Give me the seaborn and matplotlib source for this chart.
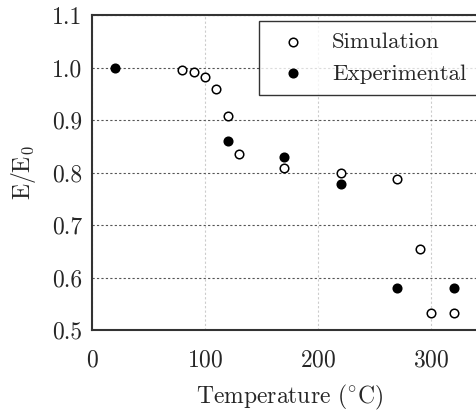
import matplotlib
matplotlib.use("Agg")
import matplotlib.pyplot as plt
import seaborn as sns
import pandas as pd

sim_T = [80, 90, 100, 110, 120, 130, 170, 220, 270, 290, 300, 320]
sim_E = [0.996, 0.991, 0.981, 0.959, 0.908, 0.836, 0.808, 0.800, 0.787, 0.654, 0.533, 0.533]
exp_T = [20, 120, 170, 220, 270, 320]
exp_E = [1.0, 0.86, 0.83, 0.779, 0.58, 0.58]
x_ticks = [0, 100, 200, 300]
y_ticks = [0.5, 0.6, 0.7, 0.8, 0.9, 1.0, 1.1]

sns.set_style("white")
plt.rcParams["font.family"] = ["cmr10", "DejaVu Serif"]
plt.rcParams["mathtext.fontset"] = "cm"
plt.rcParams["axes.formatter.use_mathtext"] = True

sim = pd.DataFrame({"T": sim_T, "E": sim_E})
exp = pd.DataFrame({"T": exp_T, "E": exp_E})

fig = plt.figure(figsize=(4.77, 4.12), dpi=100)
ax = fig.add_axes([92/477, 82/412, 395.5/477, 315/412])

sns.scatterplot(data=sim, x="T", y="E", ax=ax, marker="o", s=38,
                facecolor="white", edgecolor="black", linewidth=1.1,
                label="Simulation", zorder=3)
sns.scatterplot(data=exp, x="T", y="E", ax=ax, marker="o", s=38,
                facecolor="black", edgecolor="black", linewidth=1.1,
                label="Experimental", zorder=3)

FS = 17
ax.set_xlim(0, 350)
ax.set_ylim(0.5, 1.1)
ax.set_xticks(x_ticks)
ax.set_yticks(y_ticks)
ax.set_yticklabels([f"{v:.1f}" for v in y_ticks])
ax.tick_params(length=0, labelsize=FS)
ax.tick_params(axis="x", pad=14)
ax.tick_params(axis="y", pad=7)
ax.xaxis.grid(True, linestyle=(0, (2, 2)), color="#cccccc", linewidth=0.8)
ax.yaxis.grid(True, linestyle=(0, (2, 2)), color="#555555", linewidth=0.8)
ax.set_axisbelow(True)
for s in ax.spines.values():
    s.set_color("#333333")
    s.set_linewidth(1.5)

ax.set_xlabel(r"Temperature ($^{\circ}\mathrm{C}$)", fontsize=FS, labelpad=8)
ax.set_ylabel(r"$\mathrm{E/E_0}$", fontsize=FS, labelpad=10)

leg = ax.legend(loc="upper left", bbox_to_anchor=(258.7/477, 391.5/412),
                bbox_transform=fig.transFigure, fontsize=16.5, frameon=True,
                fancybox=False, edgecolor="black", borderpad=0.5,
                handletextpad=0.7, borderaxespad=0, labelspacing=0.5)
leg.get_frame().set_linewidth(1.0)

fig.savefig("out.png", dpi=100)
